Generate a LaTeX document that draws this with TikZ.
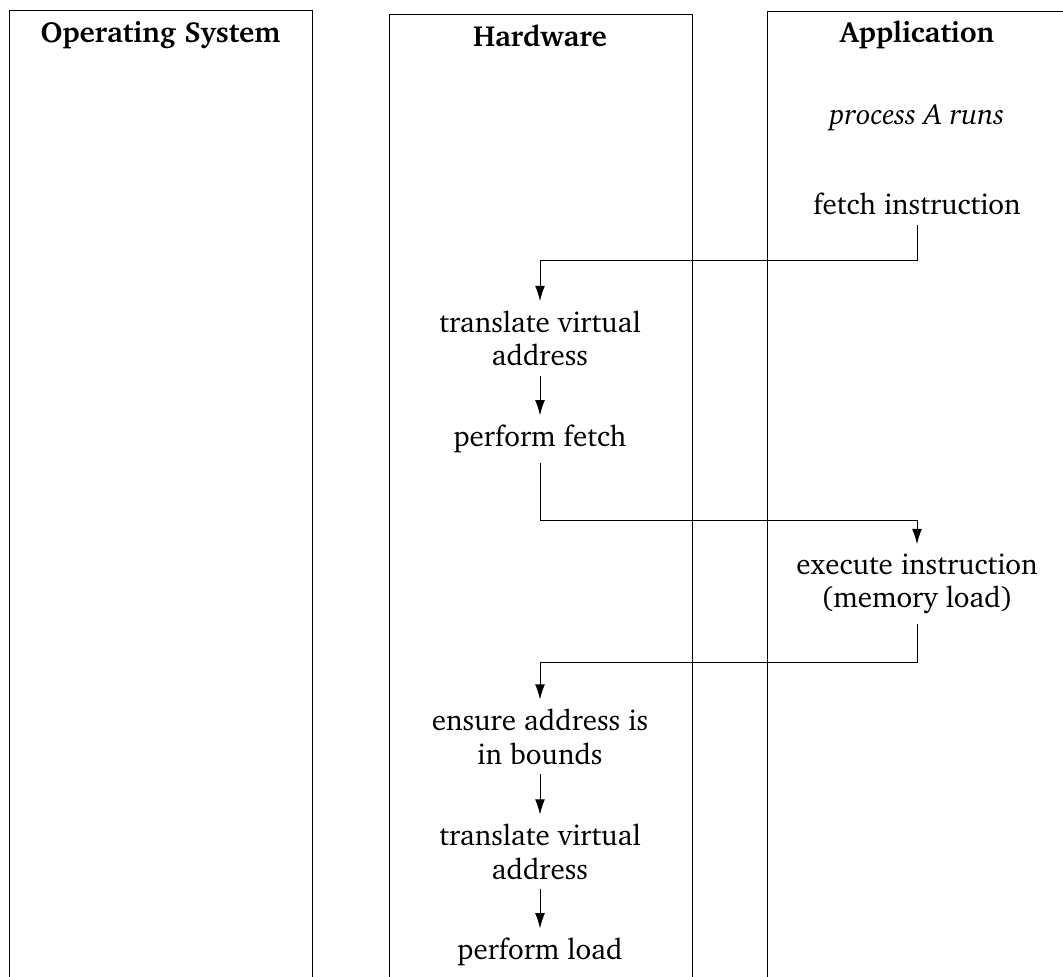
\documentclass[tikz,border=0pt]{standalone}
\usepackage[T1]{fontenc}
\usepackage{charter}
\usetikzlibrary{arrows.meta}
\tikzset{
    txt/.style={align=center,inner sep=4pt,font=\fontsize{12.4}{14.2}\selectfont},
    ttl/.style={txt,anchor=base,font=\fontsize{12.4}{14.2}\selectfont\bfseries},
}
\begin{document}
\begin{tikzpicture}[>={Latex[length=6.5pt,width=4.2pt]}]
        \useasboundingbox (0,0) rectangle (15.945,14.64);
        \clip (0,0) rectangle (15.945,14.64);
        % columns
        \draw (0.135,-1) rectangle (4.68,14.49);
        \draw (5.835,-1) rectangle (10.38,14.43);
        \draw (11.505,-1) rectangle (16.5,14.475);
        \node[ttl] (os) at (2.4075,13.995) {Operating System};
        \node[ttl] (hw) at (8.1,13.935) {Hardware};
        \node[ttl] (app) at (13.755,13.995) {Application};
        % application side
        \node[txt,font=\fontsize{12.4}{14.2}\selectfont\itshape] (procA) at (13.755,12.87) {process A runs};
        \node[txt] (fetch) at (13.755,11.58) {fetch instruction};
        \node[txt] (exec) at (13.755,5.88) {execute instruction\\(memory load)};
        % hardware side
        \node[txt] (tva1) at (8.1,9.5625) {translate virtual\\address};
        \node[txt] (pfetch) at (8.1,8.055) {perform fetch};
        \node[txt] (ensure) at (8.1,3.585) {ensure address is\\in bounds};
        \node[txt] (tva2) at (8.1,1.86) {translate virtual\\address};
        \node[txt] (pload) at (8.1,0.36) {perform load};
        % control flow
        \draw[->] (fetch.south) -- ++(0,-0.54) -| (tva1.north);
        \draw[->] (tva1) -- (pfetch);
        \draw[->] (pfetch.south) -- ++(0,-0.87) -| (exec.north);
        \draw[->] (exec.south) -- ++(0,-0.585) -| (ensure.north);
        \draw[->] (ensure) -- (tva2);
        \draw[->] (tva2) -- (pload);
    \end{tikzpicture}
\end{document}
